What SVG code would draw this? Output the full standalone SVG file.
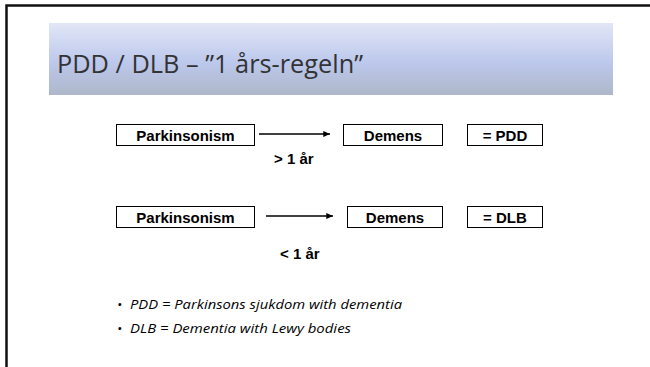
<svg xmlns="http://www.w3.org/2000/svg" width="650" height="367" viewBox="0 0 650 367">
<defs>
<linearGradient id="band" x1="0" y1="0" x2="0" y2="1">
<stop offset="0" stop-color="#e2e6f6"/>
<stop offset="0.55" stop-color="#bcc8ec"/>
<stop offset="1" stop-color="#aeb7c9"/>
</linearGradient>
<marker id="ah" viewBox="0 0 10 10" refX="10" refY="5" markerWidth="5" markerHeight="4.5" orient="auto" markerUnits="strokeWidth">
<path d="M0,0.5 L10,5 L0,9.5 Z" fill="#000"/>
</marker>
<style>
.box{fill:#fff;stroke:#000;stroke-width:1}
.bt{font-family:"Liberation Sans",Arial,sans-serif;font-weight:bold;font-size:15px;fill:#000;text-anchor:middle}
.lbl{font-family:"Liberation Sans",Arial,sans-serif;font-weight:bold;font-size:15px;fill:#000}
.bul{font-family:"Open Sans","Noto Sans",sans-serif;font-style:italic;font-size:13.5px;fill:#000}
.conn{stroke:#000;stroke-width:1.5;fill:none;marker-end:url(#ah)}
</style>
</defs>
<rect width="650" height="367" fill="#fff"/>
<path d="M6.5,367 V5.5 H650" fill="none" stroke="#111" stroke-width="2.5"/>
<g id="title">
<rect x="49" y="23" width="564" height="72" fill="url(#band)"/>
<text x="57" y="73" font-family="Open Sans,'Noto Sans',sans-serif" font-size="26" fill="#333" textLength="306" lengthAdjust="spacingAndGlyphs">PDD / DLB – ”1 års-regeln”</text>
</g>
<g id="connectors">
<line class="conn" x1="259" y1="134" x2="330" y2="134"/>
<line class="conn" x1="266" y1="216" x2="333" y2="216"/>
</g>
<g id="park1"><rect class="box" x="116.5" y="124.5" width="138" height="21"/><text class="bt" x="185.5" y="140.5">Parkinsonism</text></g>
<g id="demens1"><rect class="box" x="343.5" y="124.5" width="99" height="21"/><text class="bt" x="393" y="140.5">Demens</text></g>
<g id="pdd"><rect class="box" x="467.5" y="124.5" width="75" height="21"/><text class="bt" x="505" y="140.5">= PDD</text></g>
<g id="lbl1"><text class="lbl" x="274" y="163.5">&gt; 1 år</text></g>
<g id="park2"><rect class="box" x="116.5" y="206.5" width="138" height="21"/><text class="bt" x="185.5" y="222.5">Parkinsonism</text></g>
<g id="demens2"><rect class="box" x="347.5" y="206.5" width="95" height="21"/><text class="bt" x="395" y="222.5">Demens</text></g>
<g id="dlb"><rect class="box" x="467.5" y="206.5" width="75" height="21"/><text class="bt" x="505" y="222.5">= DLB</text></g>
<g id="lbl2"><text class="lbl" x="280" y="259">&lt; 1 år</text></g>
<g id="bullets">
<text class="bul" x="117" y="309">•</text>
<text class="bul" x="130" y="309" textLength="272" lengthAdjust="spacingAndGlyphs">PDD = Parkinsons sjukdom with dementia</text>
<text class="bul" x="117" y="333">•</text>
<text class="bul" x="130" y="333" textLength="221" lengthAdjust="spacingAndGlyphs">DLB = Dementia with Lewy bodies</text>
</g>
</svg>
